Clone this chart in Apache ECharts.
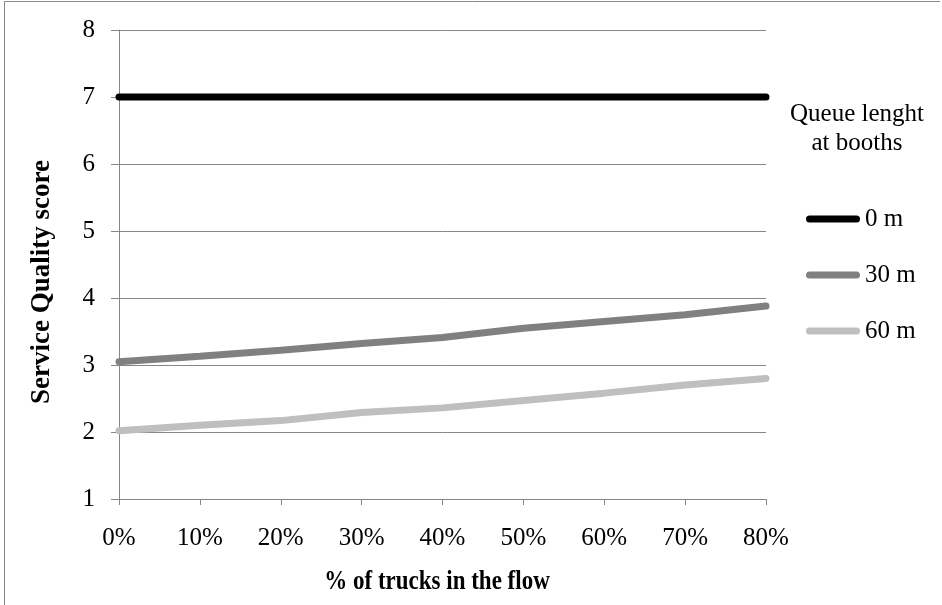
<!DOCTYPE html>
<html>
<head>
<meta charset="utf-8">
<script src="https://cdn.jsdelivr.net/npm/echarts@6/dist/echarts.min.js"></script>
<style>
html, body { margin: 0; padding: 0; background: #fff; }
#main { width: 942px; height: 605px; }
</style>
</head>
<body>
<div id="main"></div>
<script>
var categories = ['0%', '10%', '20%', '30%', '40%', '50%', '60%', '70%', '80%'];
var seriesNames = ['0 m', '30 m', '60 m'];
var queue0 = [7, 7, 7, 7, 7, 7, 7, 7, 7];
var queue30 = [3.05, 3.13, 3.22, 3.32, 3.41, 3.55, 3.65, 3.75, 3.88];
var queue60 = [2.02, 2.10, 2.17, 2.29, 2.36, 2.47, 2.58, 2.70, 2.80];
var colors = ['#000000', '#808080', '#bfbfbf'];

var font = '"Liberation Serif", "Times New Roman", serif';
var chart = echarts.init(document.getElementById('main'));

// rounded line used as legend icon
var pill = 'path://M3.5,0 L50.5,0 A3.5,3.5 0 0 1 50.5,7 L3.5,7 A3.5,3.5 0 0 1 3.5,0 Z';

function makeSeries(name, data, color) {
    return {
        name: name,
        type: 'line',
        data: data,
        symbol: 'none',
        lineStyle: { color: color, width: 7, cap: 'round' },
        itemStyle: { color: color }
    };
}

var option = {
    animation: false,
    backgroundColor: '#fff',
    grid: { left: 119, right: 176, top: 30, bottom: 106 },
    legend: {
        orient: 'vertical',
        left: 806,
        top: 206,
        padding: 0,
        icon: pill,
        itemWidth: 54,
        itemHeight: 7,
        itemGap: 30,
        textStyle: { fontFamily: font, fontSize: 25, lineHeight: 26, color: '#000' },
        data: seriesNames
    },
    xAxis: {
        type: 'category',
        boundaryGap: false,
        data: categories,
        axisLine: { lineStyle: { color: '#868686', width: 1 } },
        axisTick: { alignWithLabel: true, length: 6, lineStyle: { color: '#868686' } },
        axisLabel: { fontFamily: font, fontSize: 25, color: '#000', margin: 27 }
    },
    yAxis: {
        type: 'value',
        min: 1,
        max: 8,
        interval: 1,
        axisLine: { show: true, lineStyle: { color: '#868686', width: 1 } },
        axisTick: { show: true, length: 8, lineStyle: { color: '#868686' } },
        axisLabel: { fontFamily: font, fontSize: 25, color: '#000', margin: 24 },
        splitLine: { lineStyle: { color: '#868686', width: 1 } }
    },
    graphic: [
        {
            type: 'text',
            x: 857,
            y: 114,
            style: { text: 'Queue lenght', font: '25px ' + font, fill: '#000', align: 'center', verticalAlign: 'middle' }
        },
        {
            type: 'text',
            x: 857,
            y: 143,
            style: { text: 'at booths', font: '25px ' + font, fill: '#000', align: 'center', verticalAlign: 'middle' }
        },
        {
            type: 'text',
            x: 437,
            y: 582,
            scaleY: 1.15,
            style: { text: '% of trucks in the flow', font: 'bold 23px ' + font, fill: '#000', align: 'center', verticalAlign: 'middle' }
        },
        {
            type: 'text',
            x: 42,
            y: 282,
            rotation: Math.PI / 2,
            style: { text: 'Service Quality score', font: 'bold 27px ' + font, fill: '#000', align: 'center', verticalAlign: 'middle' }
        },
        {
            type: 'polyline',
            shape: { points: [[4.5, 605], [4.5, 1.5], [940, 1.5]] },
            style: { stroke: '#8a8a8a', lineWidth: 1, fill: null }
        }
    ],
    series: [
        makeSeries(seriesNames[0], queue0, colors[0]),
        makeSeries(seriesNames[1], queue30, colors[1]),
        makeSeries(seriesNames[2], queue60, colors[2])
    ]
};

chart.setOption(option);
</script>
</body>
</html>
